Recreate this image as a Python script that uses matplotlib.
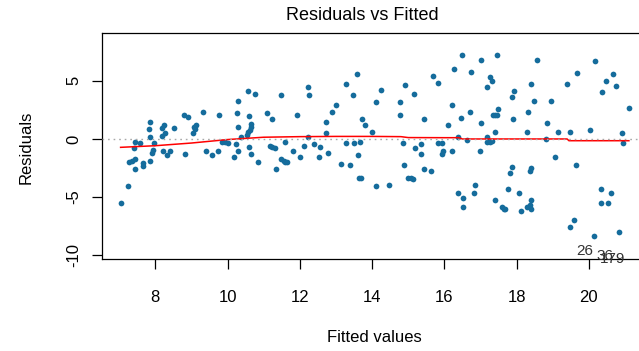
import matplotlib
matplotlib.use("Agg")
import matplotlib.pyplot as plt

plt.rcParams['font.family'] = ['Liberation Sans', 'DejaVu Sans']
plt.rcParams['axes.unicode_minus'] = False

# fitted values and residuals of the linear model
fitted = [
    7.04, 7.24, 7.44, 7.28, 7.35, 7.44, 7.40, 7.44, 7.58, 7.67, 7.67, 7.86,
    7.91, 7.94, 7.97, 7.86, 7.82, 7.86, 8.19, 8.25, 8.19, 8.27, 8.21, 8.32,
    8.40, 8.52, 8.79, 8.90, 8.82, 9.06, 9.13, 9.05, 9.10, 9.32, 9.40, 9.56,
    9.73, 9.75, 9.85, 9.93, 10.00, 10.18, 10.23, 10.29, 10.26, 10.29, 10.29, 10.37,
    10.57, 10.76, 10.60, 10.65, 10.65, 10.61, 10.58, 10.53, 10.60, 10.64, 10.83, 11.10,
    11.22, 11.18, 11.24, 11.31, 11.33, 11.49, 11.60, 11.48, 11.55, 11.59, 11.65, 11.80,
    11.91, 12.00, 12.11, 12.23, 12.26, 12.23, 12.38, 12.57, 12.54,
    12.73, 12.73, 12.77, 12.88, 13.00, 13.15, 13.27, 13.27, 13.38, 13.46, 13.50, 13.66,
    13.57, 13.61, 13.65, 13.70, 13.73, 13.80, 14.00, 14.12, 14.12, 14.24, 14.46, 14.77,
    14.77, 14.85, 14.88, 14.92, 15.00, 15.08, 15.13, 15.15, 15.19, 15.35, 15.35, 15.43,
    15.43, 15.62, 15.70,
    15.82, 15.82, 15.93, 15.93, 15.96, 16.09, 16.20, 16.20, 16.28, 16.39, 16.39, 16.48,
    16.47, 16.51, 16.52, 16.63, 16.70, 16.74, 16.82, 16.86, 16.98, 17.02, 17.02, 17.17,
    17.19, 17.18, 17.27, 17.33, 17.27, 17.31, 17.36, 17.41, 17.45, 17.48, 17.40, 17.40,
    17.47, 17.60, 17.64, 17.68, 17.76, 17.83, 17.87, 17.87, 17.94, 17.90, 18.06, 18.13,
    18.29, 18.33, 18.29, 18.36, 18.41, 18.40, 18.37, 18.41, 18.41, 18.48, 18.56, 18.83,
    18.82, 18.95, 19.06, 19.14, 19.40, 19.48, 19.60, 19.48, 19.64, 19.68, 20.02, 20.14,
    20.18, 20.33, 20.33, 20.37, 20.49, 20.53, 20.61, 20.68, 20.76, 20.84, 20.91, 20.95,
    21.11,
]
residuals = [
    -5.48, -4.02, -2.61, -2.01, -1.89, -1.72, -0.80, -0.23, -0.32, -2.32, -2.04, -1.87,
    -1.23, -0.95, -0.32, 0.15, 0.86, 1.49, 0.97, 1.23, 0.26, 0.49, -1.03, -1.41,
    -1.03, 0.97, 2.09, 1.92, -1.29, 1.00, 1.20, 0.54, 0.83, 2.32, -1.03, -1.41,
    -1.03, 2.09, -0.23, -0.29, -0.34, -1.52, -0.46, -1.03, 2.21, 1.00, 3.27, 0.15,
    4.13, 3.87, 1.95, 1.29, 1.00, 0.77, 0.58, 0.37, -0.69, -1.29, -2.01, 2.21,
    1.72, -0.57, -0.69, -0.75, -2.61, 3.76, -0.23, -1.72, -1.87, -1.98, -2.01, -1.03,
    2.09, -1.52, -0.57, 4.47, 3.76, 0.15, -0.46, -0.69, -1.52,
    1.49, 0.49, -1.18, 2.32, 2.93, -2.13, 4.73, -0.32, -2.24, 3.76, -0.32, -0.23,
    5.57, -1.41, -3.33, -3.33, 1.72, 1.23, 0.63, 3.16, -4.04, 4.24, -3.93, 3.16,
    2.09, -0.32, -2.24, 4.62, -3.33, -3.38, -3.47, 3.90, -0.80, -0.46, -1.29, 1.72,
    -2.58, -2.72, 5.45,
    4.85, -0.32, -0.32, -1.29, -1.03, 1.23, 2.93, -1.03, 6.05, 0.17, -4.65, 7.25,
    1.83, -5.12, -5.85, -0.09, 2.31, 5.79, -4.65, -3.92, -1.03, 6.77, 1.35, 4.49,
    0.13, -0.22, -0.22, -0.15, 5.32, 4.95, 2.07, 2.07, 2.07, 2.56, 0.63, -5.25,
    7.25, -5.83, -6.05, -6.05, -4.29, -2.95, -2.38, 3.61, 4.11, 1.72, -4.65, -6.21,
    0.63, 2.32, -5.83, -5.68, -6.02, -5.25, -2.73, -2.47, 4.72, 3.29, 6.76, 1.35,
    0.02, 3.27, -1.52, 0.63, 4.72, -7.55, -6.94, 0.63, -2.25, 5.71, 0.77, -8.37,
    6.74, -4.28, -5.51, 4.00, 4.97, -5.51, -4.65, 5.58, 4.59, -8.02, 0.52, -0.33,
    2.67,
]

# lowess smooth through the residuals
smooth_x = [7.04, 8.0, 9.0, 10.0, 11.0, 12.0, 13.0, 14.0, 14.8, 15.0, 16.0, 16.4,
            16.5, 17.0, 18.0, 19.0, 19.4, 19.45, 20.0, 21.11]
smooth_y = [-0.72, -0.58, -0.35, -0.05, 0.15, 0.2, 0.22, 0.22, 0.2, 0.12, 0.11, 0.11,
            0.0, 0.0, 0.0, 0.0, 0.0, -0.15, -0.15, -0.15]

# ids of the flagged observations
flag_ids = ["26", "36", "179"]
flag_x = [19.90, 20.45, 20.67]
flag_y = [-9.68, -10.07, -10.37]

fig = plt.figure(figsize=(6.39, 3.51), dpi=100)
ax = fig.add_axes([102 / 639, 92 / 351, 539 / 639, 226 / 351])

ax.scatter(fitted, residuals, s=17, color="#156C9C", linewidths=0, zorder=2)
ax.plot(smooth_x, smooth_y, color="red", lw=1.1, zorder=3)
ax.axhline(0, color="#A8A8A8", lw=1.0, ls=(0, (1.2, 2.8)), zorder=4)

for lab, lx, ly in zip(flag_ids, flag_x, flag_y):
    ax.text(lx, ly, lab, ha="center", va="center", fontsize=11,
            color="#333333", clip_on=False, zorder=5)

ax.set_xlim(6.525, 21.445)
ax.set_ylim(-10.33, 9.12)
ax.set_xticks([8, 10, 12, 14, 16, 18, 20])
ax.set_yticks([-10, -5, 0, 5])
ax.tick_params(axis="both", length=7, width=0.9, labelsize=12)
ax.tick_params(axis="x", pad=15)
ax.tick_params(axis="y", pad=8)
for t in ax.get_yticklabels():
    t.set_rotation(90)
    t.set_va("center")

for sp in ax.spines.values():
    sp.set_linewidth(0.9)

fig.text(362 / 639, 1 - 16 / 351, "Residuals vs Fitted", ha="center", va="center", fontsize=13)
fig.text(374 / 639, 1 - 338 / 351, "Fitted values", ha="center", va="center", fontsize=12)
fig.text(26 / 639, 1 - 147 / 351, "Residuals", ha="center", va="center", fontsize=12, rotation=90)

fig.savefig("out.png", dpi=100)
